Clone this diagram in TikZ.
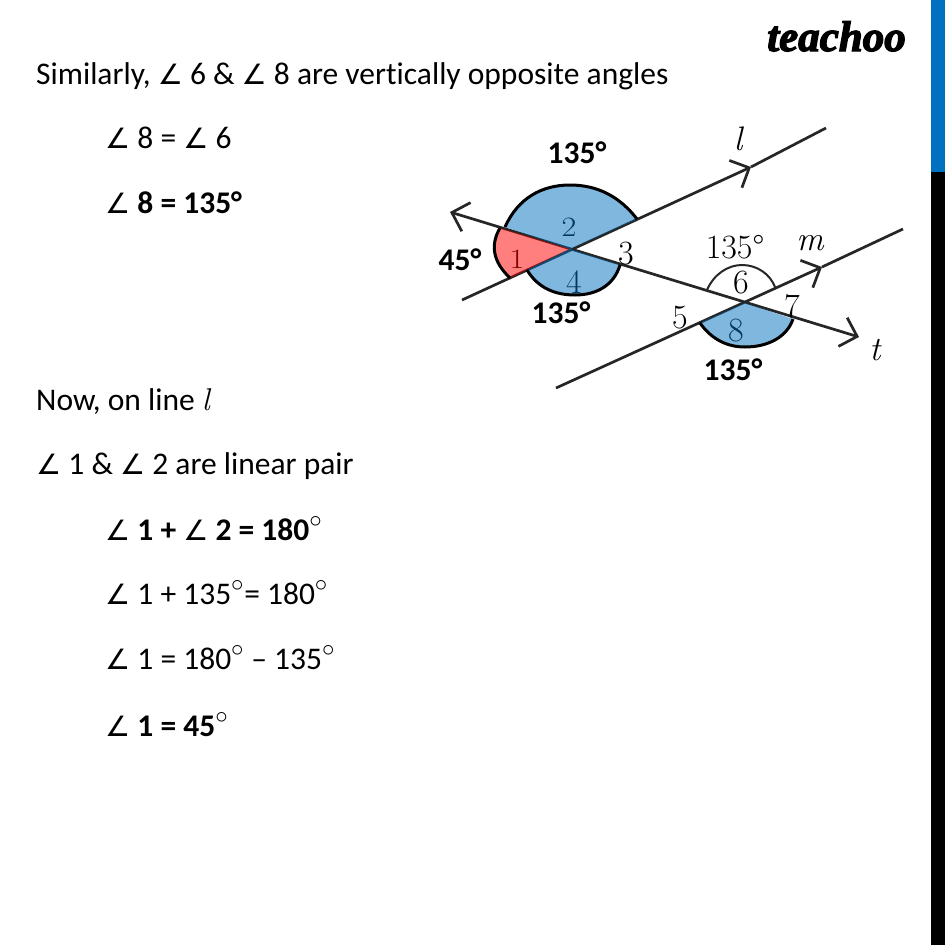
\documentclass[tikz,border=0pt]{standalone}
\usepackage{fontspec}
\usepackage{tikz}
\usetikzlibrary{arrows.meta}
\newfontfamily\bodyfont[Ligatures=NoCommon]{Carlito}
\newfontfamily\symfont{DejaVu Sans}
\newfontfamily\logofont[FakeBold=3]{Liberation Serif}
\newcommand{\ang}{{\symfont\fontsize{28}{30}\selectfont ∠}}
\newcommand{\degc}{\raisebox{0.1ex}{\scalebox{1.2}{$^\circ$}}}
\definecolor{barblue}{HTML}{0070C0}
\tikzset{
	txt/.style={anchor=base west, inner sep=0pt, font=\bodyfont\fontsize{31.5}{36}\selectfont},
	lab/.style={inner sep=0pt, font=\fontsize{34}{36}\selectfont},
	smalllab/.style={inner sep=0pt, xscale=1.15, transform shape, font=\fontsize{28}{30}\selectfont},
	val/.style={inner sep=0pt, font=\bodyfont\fontsize{31.5}{36}\selectfont\bfseries},
	ln/.style={line width=2.7pt, black!85},
	barb/.tip={Straight Barb[length=15pt, width=30pt, line width=2.7pt]},
	edge/.style={line width=3pt, black}
}
\begin{document}
\begin{tikzpicture}[x=1pt, y=-1pt]
	\useasboundingbox (0,0) rectangle (945,945);
	
	\fill[barblue] (931,0) rectangle (945,172);
	\fill[black] (931,172) rectangle (945,945);
	\node[anchor=base west, inner sep=0pt, font=\logofont\fontsize{43}{46}\selectfont\itshape\bfseries] (logo) at (767,51) {teachoo};
	
	\node[txt] (s1) at (36,84) {Similarly, \ang\ 6 \& \ang\ 8 are vertically opposite angles};
	\node[txt] (s2) at (105,148) {\ang\ 8 = \ang\ 6};
	\node[txt] (s3) at (105,213) {\ang\ \textbf{8 = 135°}};
	\node[txt] (s4) at (36,410) {Now, on line {\rmfamily\itshape l}};
	\node[txt] (s5) at (36,474) {\ang\ 1 \& \ang\ 2 are linear pair};
	\node[txt] (s6) at (105,540) {\ang\ \textbf{1 +} \ang\ \textbf{2 = 180}\degc};
	\node[txt] (s7) at (105,604) {\ang\ 1 + 135\degc= 180\degc};
	\node[txt] (s8) at (105,669) {\ang\ 1 = 180\degc\ – 135\degc};
	\node[txt] (s9) at (105,736) {\ang\ \textbf{1 = 45}\degc};
	
	% Lines
	\coordinate (A) at (570,249);
	\coordinate (B) at (745,303);
	\coordinate (tl) at (450,212);
	\coordinate (tr) at (859,337);
	\coordinate (ls) at (462,300);
	\coordinate (la) at (751,167);
	\coordinate (le) at (826,128);
	\coordinate (ms) at (556,388);
	\coordinate (ma) at (822,267);
	\coordinate (me) at (903,229);
	\draw[ln, {barb}-{barb}] (tl) -- (tr);
	\draw[ln, -{barb}] (ls) -- (la);
	\draw[ln] (la) -- (le);
	\draw[ln, -{barb}] (ms) -- (ma);
	\draw[ln] (ma) -- (me);
	
	% Labels under the shading
	\node[smalllab] (n1) at (517,259) {1};
	\node[smalllab] (n2) at (569,227) {2};
	\node[lab] (n3) at (626,254) {3};
	\node[lab] (n4) at (574,282) {4};
	\node[lab] (n5) at (680,318) {5};
	\node[lab] (n6) at (741,283) {6};
	\node[lab] (n7) at (792,306) {7};
	\node[lab] (n8) at (736,331) {8};
	\node[lab] (a6) at (735,247) {135°};
	\node[lab] (nl) at (738,139) {\itshape l};
	\node[lab] (nm) at (810,243) {\itshape m};
	\node[lab] (nt) at (875,350) {\itshape t};
	
	% Shaded angles
	\fill[barblue, opacity=0.5] (A) -- (637,219) .. controls (620,197) and (598,185) .. (570,185) .. controls (542,185) and (518,198) .. (505,227) -- cycle;
	\fill[red, opacity=0.5] (A) -- (500,228) .. controls (490,245) and (493,262) .. (510,278) -- cycle;
	\fill[barblue, opacity=0.5] (A) -- (527,270) .. controls (538,288) and (555,295) .. (575,295) .. controls (597,295) and (614,285) .. (620,265) -- cycle;
	\fill[barblue, opacity=0.5] (B) -- (700,323) .. controls (712,340) and (728,347) .. (745,347) .. controls (768,347) and (787,337) .. (793,319) -- cycle;
	
	% Arcs
	\draw[edge] (637,219) .. controls (620,197) and (598,185) .. (570,185) .. controls (542,185) and (518,198) .. (505,227);
	\draw[edge] (500,228) .. controls (490,245) and (493,262) .. (510,278);
	\draw[edge] (527,270) .. controls (538,288) and (555,295) .. (575,295) .. controls (597,295) and (614,285) .. (620,265);
	\draw[edge] (700,323) .. controls (712,340) and (728,347) .. (745,347) .. controls (768,347) and (787,337) .. (793,319);
	\draw[line width=2pt, black!85] (707,290) .. controls (714,274) and (728,265) .. (742,265) .. controls (757,265) and (770,274) .. (775,287);
	
	\node[val] (v1) at (577,153) {135°};
	\node[val] (v2) at (460,260) {45°};
	\node[val] (v3) at (561,313) {135°};
	\node[val] (v4) at (733,370) {135°};
	
\end{tikzpicture}
\end{document}
